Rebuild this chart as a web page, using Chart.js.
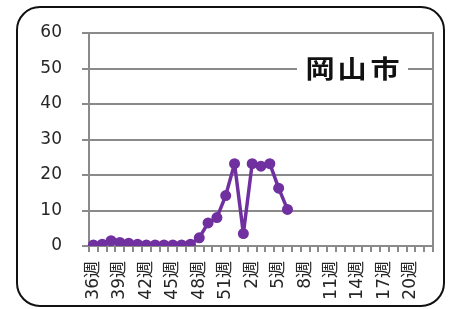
<!DOCTYPE html>
<html>
<head>
<meta charset="utf-8">
<script src="https://cdn.jsdelivr.net/npm/chart.js@4/dist/chart.umd.min.js"></script>
<style>
  html, body { margin: 0; padding: 0; background: #fff; }
  #c { display: block; }
</style>
</head>
<body>
<canvas id="c" width="454" height="309"></canvas>
<script>
const categories = ['36週','37週','38週','39週','40週','41週','42週','43週','44週','45週','46週','47週','48週','49週','50週','51週','52週','1週','2週','3週','4週','5週','6週','7週','8週','9週','10週','11週','12週','13週','14週','15週','16週','17週','18週','19週','20週','21週','22週'];
const values = [0.3, 0.5, 1.5, 1.0, 0.8, 0.5, 0.3, 0.3, 0.3, 0.3, 0.3, 0.5, 2.3, 6.5, 8.0, 14.2, 23.2, 3.5, 23.2, 22.5, 23.2, 16.3, 10.3];
const shownTickLabels = ['36週','39週','42週','45週','48週','51週','2週','5週','8週','11週','14週','17週','20週'];
const yTicks = [0, 10, 20, 30, 40, 50, 60];
const titleText = '岡山市';

const decor = {
  id: 'decor',
  beforeDraw(chart) {
    const ctx = chart.ctx;
    ctx.save();
    ctx.fillStyle = '#fff';
    ctx.fillRect(0, 0, chart.width, chart.height);
    ctx.beginPath();
    ctx.roundRect(17, 7, 427, 299, 23);
    ctx.lineWidth = 2;
    ctx.strokeStyle = '#111';
    ctx.stroke();
    ctx.restore();
  },
  beforeDatasetsDraw(chart) {
    const ctx = chart.ctx, a = chart.chartArea;
    ctx.save();
    ctx.strokeStyle = '#8a8a8a';
    ctx.lineWidth = 2;
    ctx.beginPath();
    ctx.moveTo(a.right, a.top - 1);
    ctx.lineTo(a.right, a.bottom);
    ctx.stroke();
    const y = chart.scales.y.getPixelForValue(50);
    ctx.fillStyle = '#fff';
    ctx.fillRect(297, y - 16, 111, 32);
    ctx.fillStyle = '#111';
    ctx.font = 'bold 26px "Noto Sans CJK JP"';
    ctx.textAlign = 'center';
    ctx.textBaseline = 'middle';
    const centers = [320, 352, 385];
    [...titleText].forEach((ch, i) => {
      ctx.save();
      ctx.translate(centers[i], y);
      ctx.scale(1.12, 0.95);
      ctx.fillText(ch, 0, 0);
      ctx.restore();
    });
    ctx.restore();
  }
};

new Chart(document.getElementById('c'), {
  type: 'line',
  data: {
    labels: categories,
    datasets: [{
      data: values,
      borderColor: '#7030A0',
      backgroundColor: '#7030A0',
      borderWidth: 3.5,
      borderJoinStyle: 'round',
      borderCapStyle: 'round',
      pointRadius: 5.5,
      pointBorderWidth: 0,
      pointBackgroundColor: '#7030A0',
      tension: 0,
      fill: false
    }]
  },
  options: {
    responsive: false,
    animation: false,
    layout: { padding: { left: 0, right: 21, top: 33, bottom: 0 } },
    plugins: { legend: { display: false }, tooltip: { enabled: false } },
    scales: {
      x: {
        type: 'category',
        offset: true,
        grid: { display: true, drawOnChartArea: false, drawTicks: true, tickLength: 6, color: '#8a8a8a', lineWidth: 2, offset: true },
        border: { display: true, color: '#8a8a8a', width: 2 },
        ticks: {
          autoSkip: false,
          minRotation: 90,
          maxRotation: 90,
          padding: 9,
          color: '#262626',
          font: { family: '"DejaVu Sans", "Noto Sans CJK JP"', size: 17 },
          callback: function(v, i) {
            const l = this.getLabelForValue(v);
            return shownTickLabels.includes(l) ? l : '';
          }
        },
        afterFit(scale) { scale.height = 63; scale.paddingLeft = 0; scale.paddingRight = 0; }
      },
      y: {
        min: 0,
        max: 60,
        afterBuildTicks(scale) { scale.ticks = yTicks.map(v => ({ value: v })); },
        grid: { color: '#8a8a8a', lineWidth: 2, drawTicks: true, tickLength: 7 },
        border: { display: true, color: '#8a8a8a', width: 2 },
        ticks: {
          padding: 20,
          color: '#262626',
          font: { family: '"DejaVu Sans"', size: 17 }
        },
        afterFit(scale) { scale.width = 89; }
      }
    }
  },
  plugins: [decor]
});
</script>
</body>
</html>
